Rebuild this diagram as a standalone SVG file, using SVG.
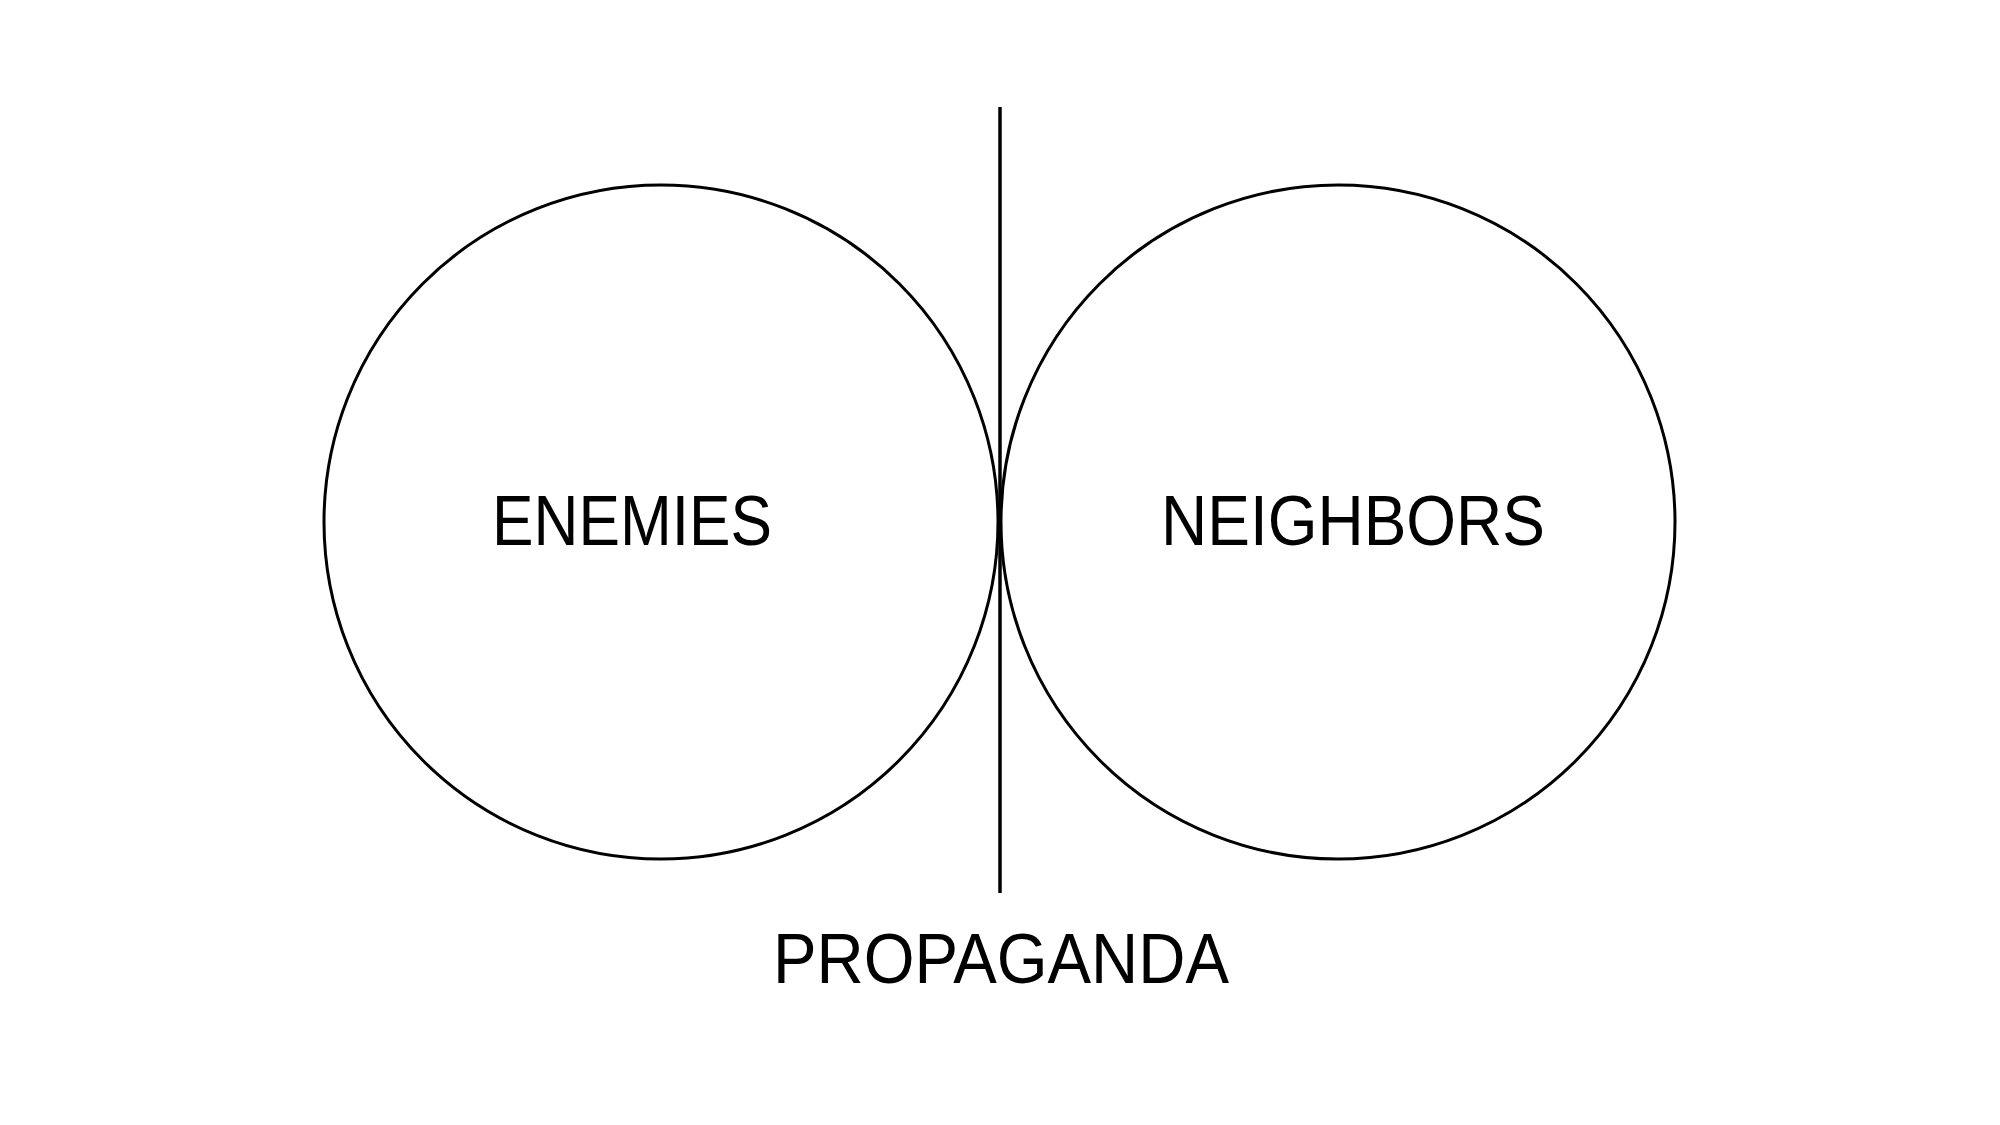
<svg xmlns="http://www.w3.org/2000/svg" width="2000" height="1125" viewBox="0 0 2000 1125">
<style>
.c{fill:none;stroke:#000;stroke-width:3}
.t{font-family:"Liberation Sans",Arial,sans-serif;font-size:71px;fill:#000}
</style>
<rect width="2000" height="1125" fill="#fff"/>
<g id="enemies">
<circle class="c" cx="661" cy="522" r="337"/>
<text class="t" x="492" y="545" textLength="280" lengthAdjust="spacingAndGlyphs">ENEMIES</text>
</g>
<g id="neighbors">
<circle class="c" cx="1338" cy="522" r="337"/>
<text class="t" x="1161" y="545" textLength="384" lengthAdjust="spacingAndGlyphs">NEIGHBORS</text>
</g>
<g id="connectors">
<line x1="1000" y1="107" x2="1000" y2="893" stroke="#000" stroke-width="3.5"/>
</g>
<g id="propaganda">
<text class="t" x="773" y="983" textLength="456" lengthAdjust="spacingAndGlyphs">PROPAGANDA</text>
</g>
</svg>
